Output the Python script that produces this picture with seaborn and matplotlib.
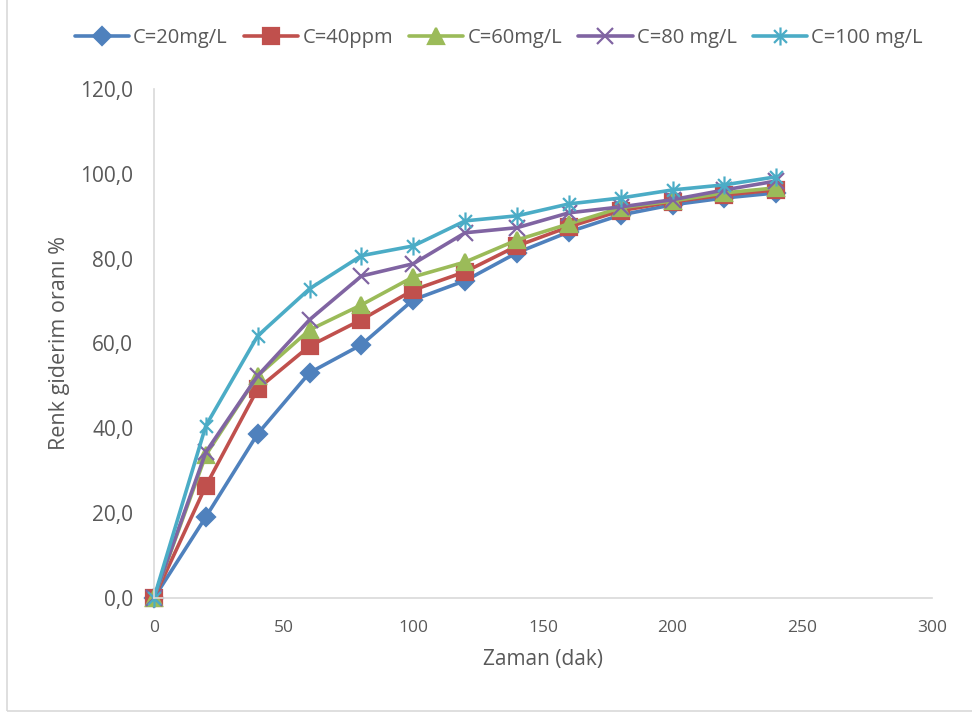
import matplotlib
matplotlib.use("Agg")
import matplotlib.pyplot as plt
import numpy as np
import pandas as pd
import seaborn as sns
from matplotlib.path import Path
from matplotlib.ticker import FuncFormatter, MultipleLocator
from matplotlib.patches import Rectangle

# Time points (minutes)
zaman = [0, 20, 40, 60, 80, 100, 120, 140, 160, 180, 200, 220, 240]

# Colour removal (%) for each initial concentration
c20 = [0, 19.1, 38.7, 53.1, 59.7, 70.3, 74.8, 81.4, 86.3, 90.3, 92.7, 94.3, 95.5]
c40 = [0, 26.4, 49.3, 59.4, 65.6, 72.6, 76.9, 83.0, 87.5, 91.3, 93.4, 95.0, 96.2]
c60 = [0, 33.7, 52.4, 63.2, 69.1, 75.7, 79.2, 84.4, 88.2, 92.0, 93.6, 95.5, 96.7]
c80 = [0, 34.4, 52.4, 65.6, 75.9, 78.8, 86.1, 87.3, 90.8, 92.2, 93.9, 96.2, 98.3]
c100 = [0, 40.6, 61.8, 72.9, 80.7, 83.0, 88.9, 90.1, 92.9, 94.3, 96.2, 97.4, 99.3]

labels = ["C=20mg/L", "C=40ppm", "C=60mg/L", "C=80 mg/L", "C=100 mg/L"]
series = [c20, c40, c60, c80, c100]
colors = ["#4F81BD", "#C0504D", "#9BBB59", "#8064A2", "#4BACC6"]

# Asterisk marker: an X with a vertical bar through it
d = 0.5
asterisk = Path(
    [(-d, -d), (d, d), (-d, d), (d, -d), (0, -0.7), (0, 0.7)],
    [Path.MOVETO, Path.LINETO, Path.MOVETO, Path.LINETO, Path.MOVETO, Path.LINETO],
)
markers = ["D", "s", "^", "x", asterisk]
msizes = [9, 11, 11, 11, 13]

sns.set_theme(style="white")
plt.rcParams["font.family"] = ["Open Sans", "DejaVu Sans"]

fig = plt.figure(figsize=(9.72, 7.14), dpi=100)
ax = fig.add_axes([0.1584, 0.1625, 0.8004, 0.7129])

for lab, vals, col, mk, ms in zip(labels, series, colors, markers, msizes):
    df = pd.DataFrame({"Zaman": zaman, "Oran": vals})
    sns.lineplot(
        data=df, x="Zaman", y="Oran", ax=ax, color=col, linewidth=2.6,
        marker=mk, markersize=ms, markeredgecolor=col, markerfacecolor=col,
        markeredgewidth=1.6, label=lab, clip_on=False,
    )

ax.set_xlim(0, 300)
ax.set_ylim(0, 120)
ax.xaxis.set_major_locator(MultipleLocator(50))
ax.yaxis.set_major_locator(MultipleLocator(20))
ax.yaxis.set_major_formatter(FuncFormatter(lambda v, p: f"{v:.1f}".replace(".", ",")))

for s in ["top", "right"]:
    ax.spines[s].set_visible(False)
for s in ["left", "bottom"]:
    ax.spines[s].set_color("#D9D9D9")
    ax.spines[s].set_linewidth(1.2)

ax.tick_params(axis="both", length=0, labelcolor="#595959")
ax.tick_params(axis="x", labelsize=12.5, pad=16)
ax.tick_params(axis="y", labelsize=15, pad=15)

ax.set_xlabel("Zaman (dak)", fontsize=15, color="#595959", labelpad=9)
ax.set_ylabel("Renk giderim oranı %", fontsize=15.5, color="#595959", labelpad=7)

leg = ax.legend(
    loc="center", bbox_to_anchor=(0.513, 0.947), bbox_transform=fig.transFigure,
    ncol=5, frameon=False, fontsize=14.5, handlelength=2.7, handletextpad=0.2,
    columnspacing=0.8, labelcolor="#595959",
)

# Outer chart frame
fig.patches.append(Rectangle((0.007, 0.004), 1.2, 1.2, transform=fig.transFigure,
                             fill=False, edgecolor="#D9D9D9", linewidth=1.2))

fig.savefig("out.png", dpi=100)
